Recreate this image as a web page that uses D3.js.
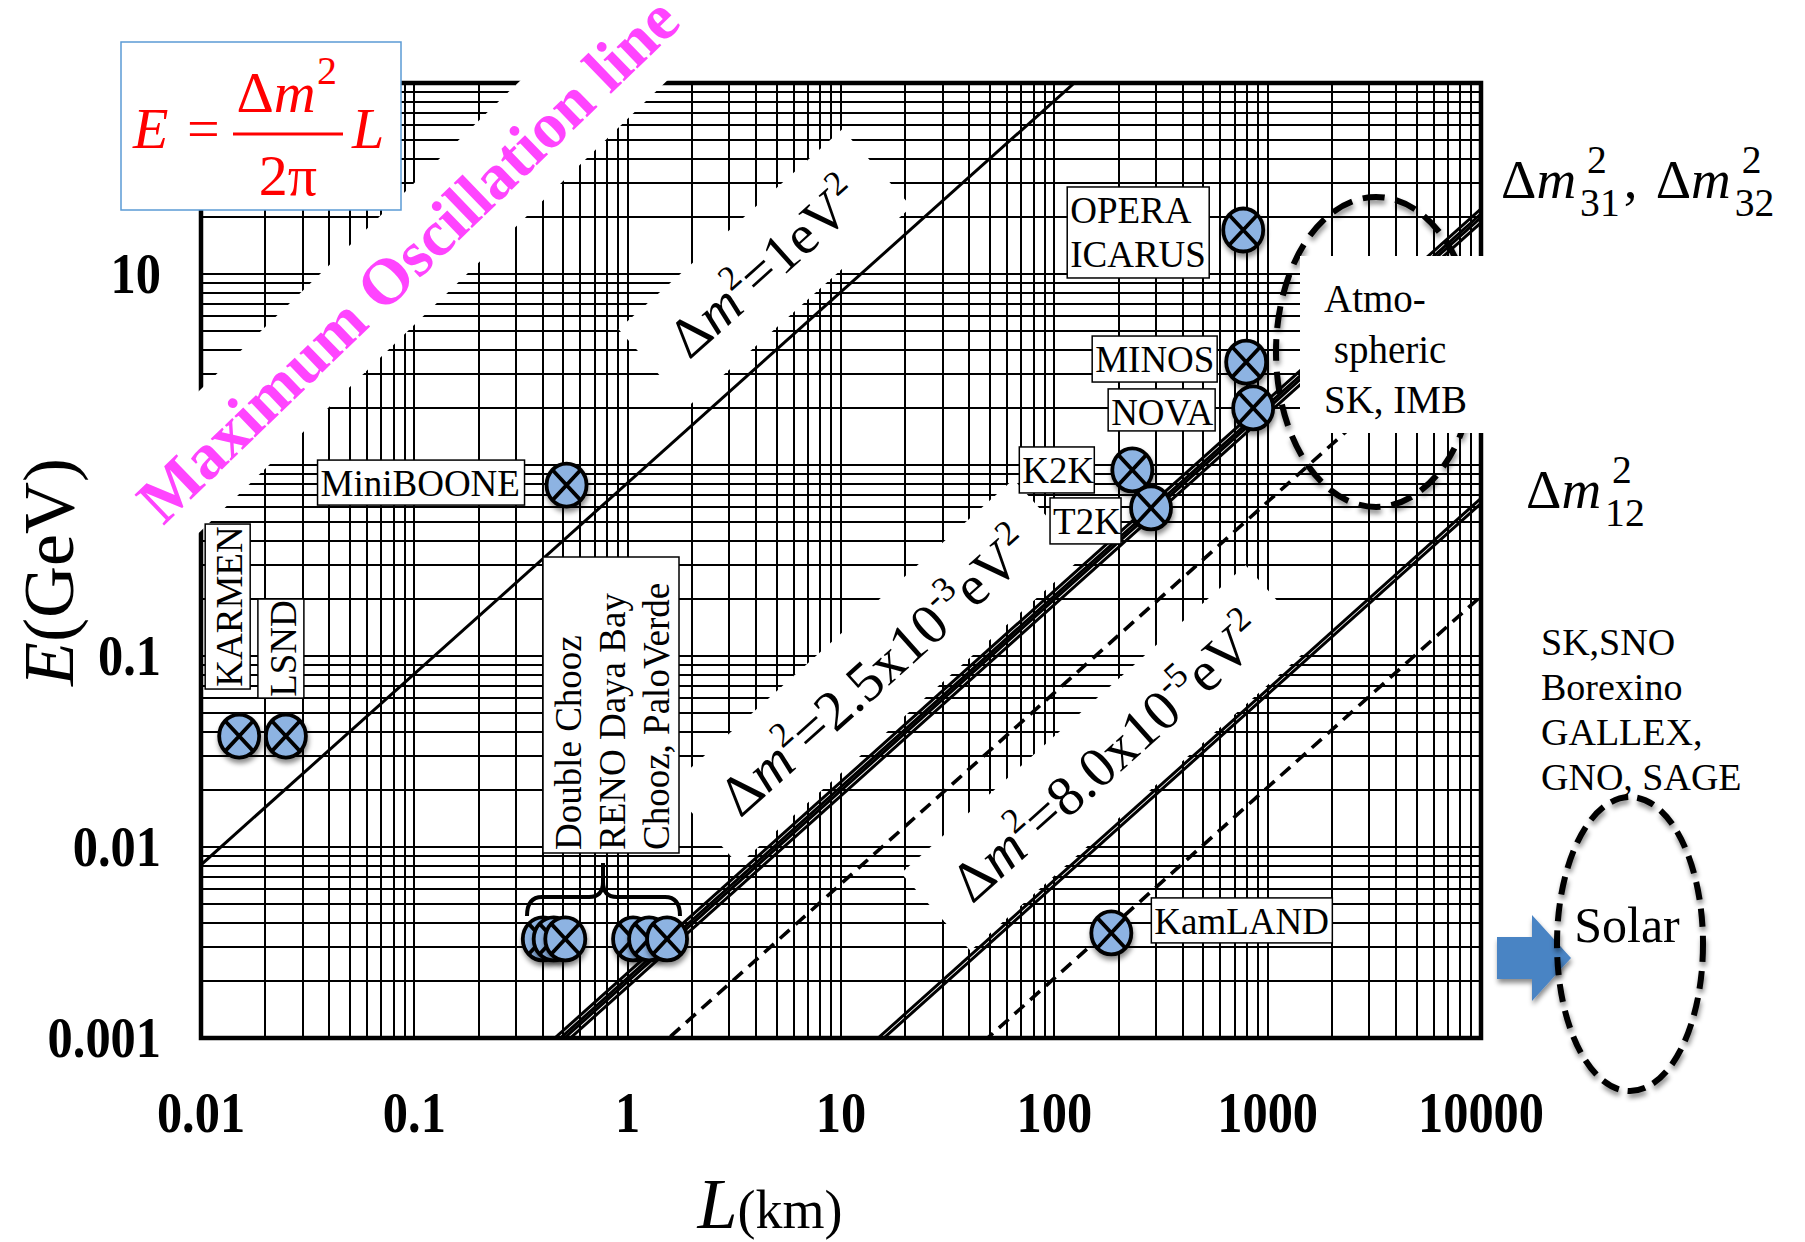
<!DOCTYPE html>
<html lang="en">
<head>
<meta charset="UTF-8">
<title>Maximum oscillation line</title>
<script src="https://cdn.jsdelivr.net/npm/d3@7"></script>
<style>
  html, body { margin: 0; padding: 0; background: #fff; }
  svg { display: block; font-family: "Liberation Serif", "Times New Roman", serif; }
</style>
</head>
<body>
<svg id="chart" width="1805" height="1242"></svg>
<script>
// ---------- data ----------
var xTicks = [0.01, 0.1, 1, 10, 100, 1000, 10000];
var yTicks = [0.001, 0.01, 0.1, 10];

var experiments = ["KARMEN", "LSND", "MiniBOONE", "K2K", "T2K", "MINOS", "NOVA", "OPERA", "KamLAND"];
var expLabels   = ["KARMEN", "LSND", "MiniBOONE", "K2K", "T2K", "MINOS", "NOVA", "OPERA\nICARUS", "KamLAND"];
var baselineKm  = [0.0151, 0.025, 0.517, 232, 284, 793, 855, 768, 185];
var energyGeV   = [0.0381, 0.0381, 0.785, 0.942, 0.596, 3.46, 1.99, 17.0, 0.00355];

// reactor experiments (Double Chooz, RENO, Daya Bay, Chooz, Palo Verde)
var reactorKm  = [0.40, 0.45, 0.51, 1.06, 1.26, 1.53];
var reactorGeV = [0.0033, 0.0033, 0.0033, 0.0033, 0.0033, 0.0033];
var reactorLabel = ["Double Chooz", "RENO Daya Bay", "Chooz, PaloVerde"];

// Δm² (eV²) of the drawn lines
var solidDm2  = [1, 2.3e-3, 2.45e-3, 2.56e-3, 2.72e-3, 7.8e-5, 8.3e-5];
var dashedDm2 = [2.5e-3, 8.0e-5];

var solarExps = ["SK,SNO", "Borexino", "GALLEX,", "GNO, SAGE"];
var atmoText  = ["Atmo-", " spheric", "SK, IMB"];

// first maximum: 1.267 Δm² L / E = π/2
var kMax = 2 * 1.267 / Math.PI;
var kDash = kMax / Math.PI;

// ---------- layout ----------
var plot = {left: 201, right: 1481, top: 83, bottom: 1038};
var boxes = {  // label boxes, offset from the marker centre
  KARMEN:    {dx: -34,  dy: -212, w: 45,  h: 165, vertical: true},
  LSND:      {dx: -28,  dy: -137, w: 46,  h: 99,  vertical: true},
  MiniBOONE: {dx: -249, dy: -25,  w: 207, h: 45},
  K2K:       {dx: -113, dy: -23,  w: 75,  h: 46},
  T2K:       {dx: -101, dy: -10,  w: 71,  h: 46},
  MINOS:     {dx: -154, dy: -26,  w: 125, h: 46},
  NOVA:      {dx: -145, dy: -19,  w: 107, h: 42},
  OPERA:     {dx: -176, dy: -43,  w: 142, h: 91},
  KamLAND:   {dx: 40,   dy: -35,  w: 181, h: 45}
};
var labelFont = 37;
var blue = "#8db3e2";

var svg = d3.select("#chart");

var x = d3.scaleLog().domain([0.01, 10000]).range([plot.left, plot.right]);
var y = d3.scaleLog().domain([0.001, 100]).range([plot.bottom, plot.top]);

var defs = svg.append("defs");
defs.append("clipPath").attr("id", "plotClip").append("rect")
  .attr("x", plot.left).attr("y", plot.top)
  .attr("width", plot.right - plot.left).attr("height", plot.bottom - plot.top);
defs.append("filter").attr("id", "shadow")
  .attr("x", "-50%").attr("y", "-50%").attr("width", "200%").attr("height", "200%")
  .append("feDropShadow").attr("dx", 1).attr("dy", 4).attr("stdDeviation", 2.5)
  .attr("flood-color", "#000").attr("flood-opacity", 0.45);

// ---------- grid ----------
var grid = svg.append("g").attr("clip-path", "url(#plotClip)")
  .attr("stroke", "#000").attr("stroke-width", 2.5).attr("shape-rendering", "crispEdges");
grid.selectAll("line.v").data(x.ticks()).join("line").attr("class", "v")
  .attr("x1", function (d) { return Math.round(x(d)); })
  .attr("x2", function (d) { return Math.round(x(d)); })
  .attr("y1", plot.top).attr("y2", plot.bottom);
grid.selectAll("line.h").data(y.ticks()).join("line").attr("class", "h")
  .attr("y1", function (d) { return Math.round(y(d)); })
  .attr("y2", function (d) { return Math.round(y(d)); })
  .attr("x1", plot.left).attr("x2", plot.right);

// ---------- Δm² lines ----------
var line = d3.line().x(function (d) { return x(d[0]); }).y(function (d) { return y(d[1]); });
var ends = x.domain();
var lines = svg.append("g").attr("clip-path", "url(#plotClip)").attr("fill", "none").attr("stroke", "#000");
lines.selectAll("path.solid").data(solidDm2).join("path").attr("class", "solid")
  .attr("stroke-width", 3)
  .attr("d", function (dm) { return line(ends.map(function (L) { return [L, kMax * dm * L]; })); });
lines.selectAll("path.dash").data(dashedDm2).join("path").attr("class", "dash")
  .attr("stroke-width", 3.6).attr("stroke-dasharray", "13,8")
  .attr("d", function (dm) { return line(ends.map(function (L) { return [L, kDash * dm * L]; })); });

// frame
svg.append("rect").attr("x", plot.left).attr("y", plot.top)
  .attr("width", plot.right - plot.left).attr("height", plot.bottom - plot.top)
  .attr("fill", "none").attr("stroke", "#000").attr("stroke-width", 4.5);

// ---------- rich text helper ----------
function richText(parent, parts, fs) {
  var t = parent.append("text").attr("font-size", fs);
  var shift = 0;
  parts.forEach(function (p) {
    var s = p.sup ? -0.42 * fs : 0;
    var ts = t.append("tspan").text(p.t).attr("dy", s - shift);
    if (p.sup) ts.attr("font-size", fs * 0.62);
    if (p.i) ts.attr("font-style", "italic");
    shift = s;
  });
  return t;
}

function rotatedLabel(cfg) {
  var g = svg.append("g")
    .attr("transform", "translate(" + cfg.cx + "," + cfg.cy + ") rotate(" + cfg.angle + ")");
  var band = g.append("rect").attr("fill", "#fff");
  var t = richText(g, cfg.parts, cfg.size)
    .attr("text-anchor", "middle").attr("y", cfg.size * 0.33)
    .attr("fill", cfg.color || "#000");
  if (cfg.bold) t.attr("font-weight", "bold");
  var len = t.node().getComputedTextLength();
  band.attr("x", -len / 2 - cfg.padL).attr("width", len + cfg.padL + cfg.padR)
    .attr("y", -cfg.band / 2).attr("height", cfg.band);
}

function dmParts(mant, exp) {
  var p = [{t: "Δ"}, {t: "m", i: true}, {t: "2", sup: true}, {t: "=" + mant}];
  if (exp) p.push({t: exp, sup: true});
  p.push({t: "eV"}, {t: "2", sup: true});
  return p;
}

rotatedLabel({cx: 408, cy: 260, angle: -44, size: 65, bold: true, color: "#ff44ff",
  parts: [{t: "Maximum Oscillation line"}], band: 102, padL: 28, padR: 90});
rotatedLabel({cx: 765, cy: 268, angle: -41.8, size: 56, parts: dmParts("1"), band: 104, padL: 32, padR: 32});
rotatedLabel({cx: 876, cy: 672, angle: -41.8, size: 57, parts: dmParts("2.5x10", "-3"), band: 104, padL: 32, padR: 32});
rotatedLabel({cx: 1108, cy: 758, angle: -41.8, size: 57, parts: dmParts("8.0x10", "-5"), band: 104, padL: 32, padR: 32});

// ---------- label boxes ----------
var pts = experiments.map(function (name, i) {
  return {name: name, label: expLabels[i], px: x(baselineKm[i]), py: y(energyGeV[i])};
});
var boxG = svg.append("g").attr("font-size", labelFont);
pts.forEach(function (p) {
  var b = boxes[p.name];
  var bx = p.px + b.dx, by = p.py + b.dy;
  boxG.append("rect").attr("x", bx).attr("y", by).attr("width", b.w).attr("height", b.h)
    .attr("fill", "#fff").attr("stroke", "#000").attr("stroke-width", 1.5);
  if (b.vertical) {
    boxG.append("text").attr("text-anchor", "middle")
      .attr("transform", "translate(" + (bx + b.w - 8) + "," + (by + b.h / 2) + ") rotate(-90)")
      .text(p.label);
  } else {
    p.label.split("\n").forEach(function (s, k) {
      boxG.append("text").attr("x", bx + 3).attr("y", by + 36 + k * 44).text(s);
    });
  }
});

// reactor box + brace
var rb = {x: 543, y: 557, w: 136, h: 296};
boxG.append("rect").attr("x", rb.x).attr("y", rb.y).attr("width", rb.w).attr("height", rb.h)
  .attr("fill", "#fff").attr("stroke", "#000").attr("stroke-width", 1.5);
reactorLabel.forEach(function (s, k) {
  boxG.append("text")
    .attr("transform", "translate(" + (rb.x + 38 + k * 44) + "," + (rb.y + rb.h - 3) + ") rotate(-90)")
    .text(s);
});
svg.append("path").attr("fill", "none").attr("stroke", "#000").attr("stroke-width", 4)
  .attr("d", "M527,916 Q527,897 542,897 L589,897 Q603,897 603,882 L603,863 M603,882 Q603,897 617,897 L665,897 Q680,897 680,916");

// ---------- markers ----------
function marker(sel) {
  var rx = 20, ry = 21.5;
  sel.append("ellipse").attr("rx", rx).attr("ry", ry)
    .attr("fill", blue).attr("stroke", "#000").attr("stroke-width", 3.8);
  sel.append("path").attr("stroke", "#000").attr("stroke-width", 3.8)
    .attr("d", "M" + (-rx * 0.7) + "," + (-ry * 0.7) + "L" + (rx * 0.7) + "," + (ry * 0.7) +
      "M" + (rx * 0.7) + "," + (-ry * 0.7) + "L" + (-rx * 0.7) + "," + (ry * 0.7));
}
var mk = svg.append("g");
mk.selectAll("g.r").data(reactorKm).join("g").attr("class", "r")
  .attr("filter", "url(#shadow)")
  .attr("transform", function (d, i) { return "translate(" + x(d) + "," + y(reactorGeV[i]) + ")"; })
  .call(marker);
mk.selectAll("g.e").data(pts).join("g").attr("class", "e")
  .attr("filter", "url(#shadow)")
  .attr("transform", function (d) { return "translate(" + d.px + "," + d.py + ")"; })
  .each(function () { marker(d3.select(this)); });

// ---------- atmospheric ----------
svg.append("ellipse").attr("cx", 1376).attr("cy", 352).attr("rx", 100).attr("ry", 155)
  .attr("fill", "none").attr("stroke", "#000").attr("stroke-width", 6)
  .attr("stroke-dasharray", "22,11").attr("filter", "url(#shadow)");
svg.append("rect").attr("x", 1300).attr("y", 256).attr("width", 191).attr("height", 177).attr("fill", "#fff");
atmoText.forEach(function (s, k) {
  svg.append("text").attr("x", 1324).attr("y", 312 + k * 50.5).attr("font-size", 39)
    .attr("xml:space", "preserve").text(s);
});

// ---------- right side annotations ----------
function dmStack(x0, base, fs, sub) {
  var t = svg.append("text").attr("x", x0).attr("y", base).attr("font-size", fs);
  t.append("tspan").text("Δ");
  t.append("tspan").attr("font-style", "italic").text("m");
  var w = t.node().getComputedTextLength();
  svg.append("text").attr("x", x0 + w + 11).attr("y", base - 0.45 * fs).attr("font-size", fs * 0.72).text("2");
  var s = svg.append("text").attr("x", x0 + w + 4).attr("y", base + 0.33 * fs).attr("font-size", fs * 0.72).text(sub);
  return x0 + w + 4 + s.node().getComputedTextLength();
}
var xe = dmStack(1501, 198, 55, "31");
svg.append("text").attr("x", xe + 4).attr("y", 198).attr("font-size", 55).text(",");
dmStack(xe + 36, 198, 55, "32");
dmStack(1526, 508, 55, "12");

solarExps.forEach(function (s, k) {
  svg.append("text").attr("x", 1541).attr("y", 655 + k * 45).attr("font-size", 38).text(s);
});
svg.append("path").attr("fill", "#4a84c4").attr("filter", "url(#shadow)")
  .attr("d", "M1497,937 L1532,937 L1532,915 L1571,958 L1532,1001 L1532,979 L1497,979 Z");
svg.append("ellipse").attr("cx", 1630).attr("cy", 944).attr("rx", 73).attr("ry", 147)
  .attr("fill", "none").attr("stroke", "#000").attr("stroke-width", 6)
  .attr("stroke-dasharray", "18,9").attr("filter", "url(#shadow)");
svg.append("text").attr("x", 1627).attr("y", 942).attr("text-anchor", "middle")
  .attr("font-size", 50).text("Solar");

// ---------- formula box ----------
var fb = svg.append("g").attr("fill", "#ff0000").attr("font-size", 58);
fb.append("rect").attr("x", 121).attr("y", 42).attr("width", 280).attr("height", 168)
  .attr("fill", "#fff").attr("stroke", "#5b9bd5").attr("stroke-width", 1.5);
fb.append("text").attr("x", 133).attr("y", 148).attr("font-style", "italic").text("E");
fb.append("text").attr("x", 187).attr("y", 148).text("=");
var num = fb.append("text").attr("x", 276).attr("y", 112).attr("text-anchor", "middle");
num.append("tspan").text("Δ");
num.append("tspan").attr("font-style", "italic").text("m");
fb.append("text").attr("x", 317).attr("y", 84).attr("font-size", 40).text("2");
fb.append("line").attr("x1", 233).attr("x2", 343).attr("y1", 134).attr("y2", 134)
  .attr("stroke", "#ff0000").attr("stroke-width", 3);
fb.append("text").attr("x", 288).attr("y", 195).attr("text-anchor", "middle").text("2π");
fb.append("text").attr("x", 352).attr("y", 148).attr("font-style", "italic").text("L");

// ---------- axes ----------
svg.append("g").attr("font-weight", "bold").attr("font-size", 56).attr("text-anchor", "middle")
  .selectAll("text").data(xTicks).join("text")
  .attr("transform", function (d) { return "translate(" + x(d) + ",1132) scale(0.9,1)"; })
  .text(function (d) { return String(d); });
svg.append("g").attr("font-weight", "bold").attr("font-size", 56).attr("text-anchor", "end")
  .selectAll("text").data(yTicks).join("text")
  .attr("transform", function (d) { return "translate(161," + (y(d) + 19) + ") scale(0.9,1)"; })
  .text(function (d) { return String(d); });

var yl = svg.append("text").attr("transform", "translate(73,572) rotate(-90)")
  .attr("text-anchor", "middle").attr("font-size", 72);
yl.append("tspan").attr("font-style", "italic").text("E");
yl.append("tspan").text("(GeV)");

var xl = svg.append("text").attr("x", 770).attr("y", 1228).attr("text-anchor", "middle");
xl.append("tspan").attr("font-style", "italic").attr("font-size", 72).text("L");
xl.append("tspan").attr("font-size", 54).text("(km)");
</script>
</body>
</html>
